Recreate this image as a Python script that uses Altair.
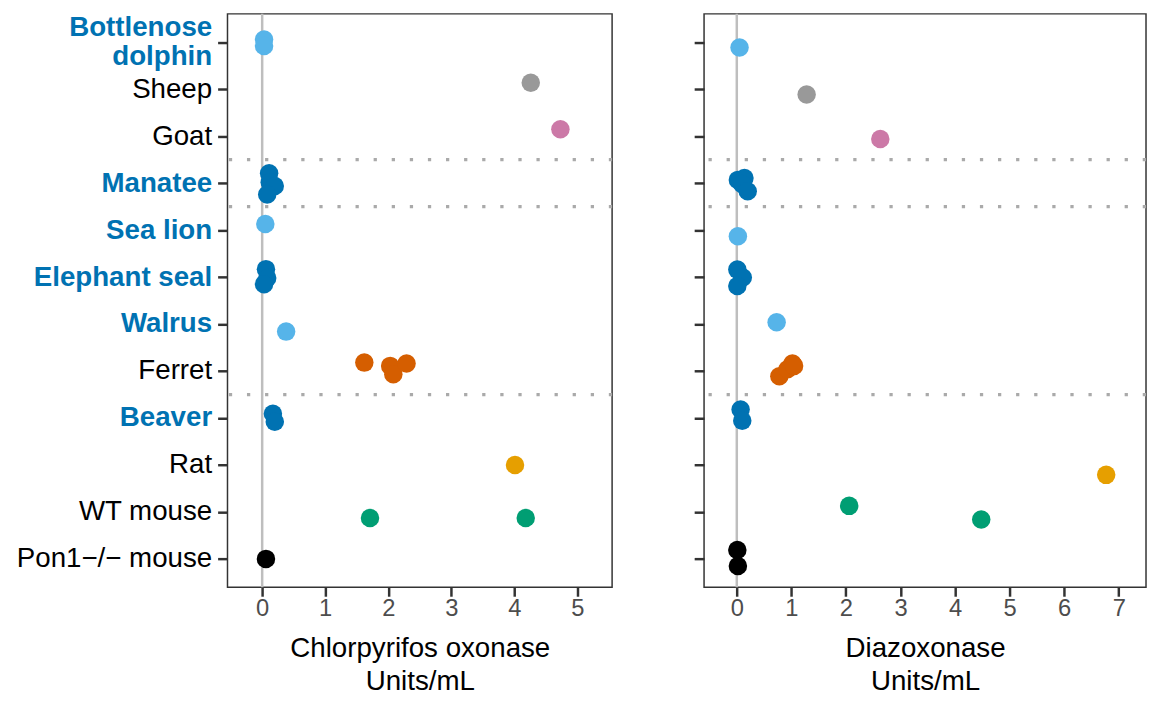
import altair as alt
import pandas as pd

# ---------------- data ----------------
species = ["Bottlenose dolphin", "Sheep", "Goat", "Manatee", "Sea lion",
           "Elephant seal", "Walrus", "Ferret", "Beaver", "Rat",
           "WT mouse", "Pon1\u2212/\u2212 mouse"]
marine = ["Bottlenose dolphin", "Manatee", "Sea lion", "Elephant seal",
          "Walrus", "Beaver"]
separators_after = ["Goat", "Manatee", "Ferret"]

# Chlorpyrifos oxonase, Units/mL (one list per species)
cpo_units = [
    [0.03, 0.03],
    [4.26],
    [4.73],
    [0.11, 0.12, 0.20, 0.08],
    [0.05],
    [0.06, 0.08, 0.03],
    [0.38],
    [1.62, 2.03, 2.08, 2.29],
    [0.17, 0.20],
    [4.01],
    [1.71, 4.18],
    [0.06],
]
# vertical jitter, fraction of a category step (positive = down)
cpo_jitter = [
    [-0.06, 0.08],
    [-0.14],
    [-0.15],
    [-0.21, -0.02, 0.06, 0.24],
    [-0.13],
    [-0.17, 0.02, 0.15],
    [0.16],
    [-0.18, -0.11, 0.07, -0.16],
    [-0.09, 0.08],
    [0.0],
    [0.13, 0.13],
    [0.0],
]

# Diazoxonase, Units/mL
dzo_units = [
    [0.05],
    [1.28],
    [2.63],
    [0.02, 0.14, 0.10, 0.20],
    [0.02],
    [0.01, 0.11, 0.01],
    [0.73],
    [0.78, 0.93, 1.02, 1.05],
    [0.07, 0.10],
    [6.77],
    [2.06, 4.48],
    [0.01, 0.02],
]
dzo_jitter = [
    [0.11],
    [0.11],
    [0.06],
    [-0.07, -0.11, 0.02, 0.17],
    [0.13],
    [-0.16, 0.01, 0.19],
    [-0.04],
    [0.11, -0.04, -0.16, -0.11],
    [-0.18, 0.06],
    [0.21],
    [-0.13, 0.16],
    [-0.19, 0.15],
]

cpo_ticks = [0, 1, 2, 3, 4, 5]
dzo_ticks = [0, 1, 2, 3, 4, 5, 6, 7]

# ---------------- style ----------------
species_colors = ["#56B4E9", "#999999", "#CC79A7", "#0072B2", "#56B4E9",
                  "#0072B2", "#56B4E9", "#D55E00", "#0072B2", "#E69F00",
                  "#009E73", "#000000"]
FONT = "Liberation Sans"
PANEL_H = 580
PAD = 0.605
STEP = PANEL_H / (len(species) - 1 + 2 * PAD)


def make_df(units, jitter):
    rows = []
    for sp, us, js in zip(species, units, jitter):
        for u, j in zip(us, js):
            rows.append({"species": sp, "units": u, "jit": j})
    return pd.DataFrame(rows)


sep_df = pd.DataFrame({"species": separators_after,
                       "jit": [0.5] * len(separators_after)})
zero_df = pd.DataFrame({"units": [0.0]})

marine_expr = "indexof(" + str(marine) + ", datum.value) >= 0"


def y_enc(show_labels):
    axis_kw = dict(title=None, domain=False, grid=False, ticks=True,
                   tickSize=10, tickWidth=2.5, tickColor="#333333")
    if show_labels:
        axis_kw.update(
            labels=True, labelFont=FONT, labelFontSize=28, labelPadding=6,
            labelLineHeight=29, labelLimit=0,
            labelExpr="datum.value == 'Bottlenose dolphin' ? ['Bottlenose', 'dolphin'] : datum.label",
            labelOffset={"condition": {"test": "datum.value == 'Bottlenose dolphin'",
                                       "value": -15},
                         "value": 0},
            labelColor={"condition": {"test": marine_expr, "value": "#0072B2"},
                        "value": "#000000"},
            labelFontWeight={"condition": {"test": marine_expr, "value": "bold"},
                             "value": "normal"},
        )
    else:
        axis_kw.update(labels=False, labelPadding=0)
    return alt.Y("species:N", sort=species,
                 scale=alt.Scale(domain=species, type="point", padding=PAD),
                 axis=alt.Axis(**axis_kw))


def yoff_enc():
    return alt.YOffset("jit:Q", scale=alt.Scale(domain=[-0.5, 0.5],
                                                range=[-STEP / 2, STEP / 2]))


def x_enc(domain, ticks, title):
    return alt.X("units:Q",
                 scale=alt.Scale(domain=domain, nice=False, zero=False),
                 axis=alt.Axis(values=ticks, title=title, grid=False,
                               domain=False, tickSize=9, tickWidth=2.5,
                               tickColor="#333333", labelFont=FONT,
                               labelFontSize=24, labelColor="#4D4D4D",
                               labelPadding=0, titleFont=FONT,
                               titleFontSize=28, titleFontWeight="normal",
                               titleColor="#000000", titleLineHeight=33,
                               titlePadding=15, format="d"))


def panel(units, jitter, domain, ticks, title, width, show_labels):
    df = make_df(units, jitter)
    xe = x_enc(domain, ticks, title)
    zero = alt.Chart(zero_df).mark_rule(color="#BEBEBE", strokeWidth=2.5).encode(x=xe)
    seps = alt.Chart(sep_df).mark_rule(color="#AAAAAA", strokeWidth=3.3,
                                       strokeDash=[3.3, 15]).encode(
        y=y_enc(show_labels), yOffset=yoff_enc())
    pts = alt.Chart(df).mark_circle(size=350, opacity=1).encode(
        x=xe,
        y=y_enc(show_labels),
        yOffset=yoff_enc(),
        color=alt.Color("species:N",
                        scale=alt.Scale(domain=species, range=species_colors),
                        legend=None),
    )
    return alt.layer(zero, seps, pts).properties(width=width, height=PANEL_H)


left = panel(cpo_units, cpo_jitter, [-0.55, 5.55], cpo_ticks,
             ["Chlorpyrifos oxonase", "Units/mL"], 389, True)
right = panel(dzo_units, dzo_jitter, [-0.6, 7.5], dzo_ticks,
              ["Diazoxonase", "Units/mL"], 447, False)

chart = alt.hconcat(left, right, spacing=78).properties(
    padding={"left": 7, "top": 0, "right": -2, "bottom": -2}
).configure(background="white", font=FONT).configure_view(
    stroke="#333333", strokeWidth=1.5)

chart.save("out.html", embed_options={"renderer": "svg", "actions": False})
